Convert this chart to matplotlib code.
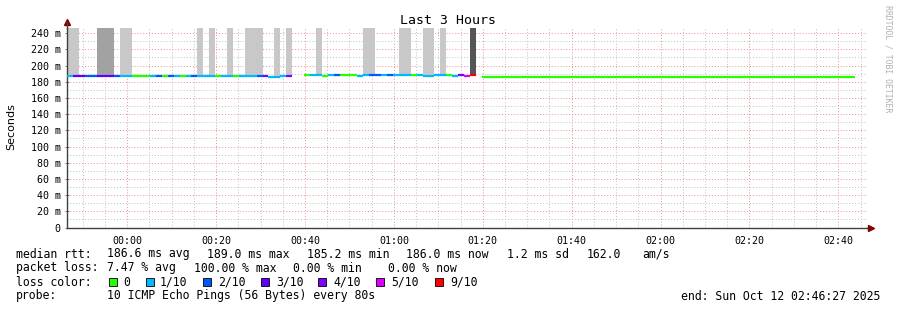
import matplotlib
matplotlib.use("Agg")
import matplotlib.pyplot as plt
from matplotlib.patches import Rectangle
from matplotlib.ticker import MultipleLocator, FixedLocator

# ----------------------------------
# Data (one sample every 80 s, from 23:46:27)
step_min = 80 / 60.0
t0 = -13.55  # minutes relative to 00:00

# median rtt line segments: start sample, number of samples, lost pings, median (ms)
seg_start = [0, 1, 3, 5, 8, 9, 11, 14, 15, 16, 17, 18, 19, 20, 21, 22, 25, 26, 28, 29,
             32, 33, 34, 36, 37,
             40, 41, 43, 44, 45, 46, 49, 50, 51, 53, 54, 55, 58, 59, 60, 62, 64, 65, 66,
             67, 68,
             70]
seg_len = [1, 2, 2, 3, 1, 2, 3, 1, 1, 1, 1, 1, 1, 1, 1, 3, 1, 2, 1, 3,
           1, 1, 2, 1, 1,
           1, 2, 1, 1, 1, 3, 1, 1, 2, 1, 1, 3, 1, 1, 2, 2, 1, 1, 1,
           1, 1,
           63]
seg_loss = [1, 3, 2, 3, 2, 1, 0, 1, 2, 0, 2, 1, 0, 1, 2, 1, 0, 1, 0, 1,
            2, 4, 1, 1, 4,
            0, 1, 0, 1, 2, 0, 1, 1, 2, 1, 2, 1, 0, 1, 1, 1, 0, 1, 4,
            5, 9,
            0]
seg_median = [187.0, 187.0, 187.0, 187.0, 187.0, 187.0, 187.0, 187.0, 187.0, 187.0,
              187.0, 187.0, 187.0, 187.0, 187.0, 187.0, 187.0, 187.0, 187.0, 187.0,
              187.0, 187.0, 185.2, 187.0, 187.0,
              188.0, 188.3, 187.0, 188.3, 188.3, 188.3, 187.0, 188.3, 188.3, 188.3,
              188.3, 188.3, 188.3, 188.3, 187.0, 188.3, 188.3, 187.0, 188.3,
              187.0, 188.3,
              185.8]

# smoke (spread of the pings), going off the top of the scale
smoke_start = [0, 5, 9, 22, 24, 27, 30, 35, 37, 42, 50, 56, 60, 63, 68]
smoke_len = [2, 3, 2, 1, 1, 1, 3, 1, 1, 1, 2, 2, 2, 1, 1]
smoke_shade = ["#c8c8c8", "#a2a2a2", "#c8c8c8", "#c8c8c8", "#c8c8c8", "#c8c8c8",
               "#c8c8c8", "#c8c8c8", "#c8c8c8", "#c8c8c8", "#c8c8c8", "#c8c8c8",
               "#c8c8c8", "#c8c8c8", "#555555"]
smoke_top = 246.3

loss_levels = [0, 1, 2, 3, 4, 5, 9]
loss_labels = ["0", "1/10", "2/10", "3/10", "4/10", "5/10", "9/10"]
loss_colors = ["#26ff00", "#00b8ff", "#0059ff", "#5e00ff", "#7e00ff", "#dd00ff", "#ff0000"]

x_tick_min = [0, 20, 40, 60, 80, 100, 120, 140, 160]
x_tick_labels = ["00:00", "00:20", "00:40", "01:00", "01:20", "01:40", "02:00", "02:20", "02:40"]
y_ticks = list(range(0, 241, 20))
y_tick_labels = ["0"] + ["%d m" % v for v in y_ticks[1:]]

W, H = 897, 310
MONO = "DejaVu Sans Mono"


def px(x, y):
    return x / W, 1 - y / H


def main():
    fig = plt.figure(figsize=(W / 100, H / 100), dpi=100)
    ax = fig.add_axes([67 / W, 1 - 227.5 / H, 800 / W, 199.5 / H])
    ax.set_xlim(t0, t0 + 180)
    ax.set_ylim(0, smoke_top)

    # smoke bars
    for s, n, c in zip(smoke_start, smoke_len, smoke_shade):
        i = seg_start.index(max(v for v in seg_start if v <= s))
        base = seg_median[i]
        ax.bar(t0 + s * step_min, smoke_top - base, width=n * step_min, bottom=base,
               align="edge", color=c, linewidth=0, zorder=2)

    # median line coloured by loss
    color_of = dict(zip(loss_levels, loss_colors))
    for s, n, loss, med in zip(seg_start, seg_len, seg_loss, seg_median):
        ax.hlines(med, t0 + s * step_min, t0 + (s + n) * step_min,
                  color=color_of[loss], linewidth=1.6, capstyle="butt", zorder=3)

    # grid
    ax.xaxis.set_major_locator(FixedLocator(x_tick_min))
    ax.xaxis.set_minor_locator(MultipleLocator(5))
    ax.set_xticklabels(x_tick_labels)
    ax.yaxis.set_major_locator(FixedLocator(y_ticks))
    ax.yaxis.set_minor_locator(MultipleLocator(10))
    ax.set_yticklabels(y_tick_labels)
    ax.grid(which="minor", color="#c0c0c0", linestyle=(0, (1, 2)), linewidth=0.7, zorder=1)
    ax.grid(which="major", color="#ec9090", linestyle=(0, (1, 2)), linewidth=0.7, zorder=1)
    ax.set_axisbelow(True)

    for sp in ["top", "right"]:
        ax.spines[sp].set_visible(False)
    for sp in ["left", "bottom"]:
        ax.spines[sp].set_color("#404040")
        ax.spines[sp].set_linewidth(1.0)
    ax.tick_params(which="both", direction="inout", length=3, width=0.6, color="#606060",
                   labelsize=7.2, pad=3)
    ax.tick_params(axis="x", which="both", length=0, pad=6)
    ax.tick_params(axis="y", which="minor", length=0)
    for lab in ax.get_xticklabels() + ax.get_yticklabels():
        lab.set_family(MONO)

    # axis arrows
    ax.plot([0], [1.03], marker="^", color="#800000", markersize=4,
            transform=ax.transAxes, clip_on=False)
    ax.plot([0, 0], [1.0, 1.03], color="#404040", linewidth=1.0,
            transform=ax.transAxes, clip_on=False)
    ax.plot([1.0, 1.004], [0, 0], color="#404040", linewidth=1.0,
            transform=ax.transAxes, clip_on=False)
    ax.plot([1.005], [0], marker=">", color="#800000", markersize=4,
            transform=ax.transAxes, clip_on=False)

    fig.text(*px(448, 20), "Last 3 Hours", family=MONO, fontsize=9.5,
             ha="center", va="center")
    fig.text(*px(11, 127), "Seconds", family="DejaVu Sans", fontsize=8,
             rotation=90, ha="center", va="center")
    fig.text(*px(888, 59), "RRDTOOL / TOBI OETIKER", family=MONO, fontsize=5.9,
             color="#b0b0b0", rotation=270, ha="center", va="center")

    # legend / statistics
    fs = 8.3
    def put(x, y, s, **kw):
        fig.text(*px(x, y), s, family=MONO, fontsize=fs, va="center", **kw)

    put(16, 254, "median rtt:")
    put(107, 254, "186.6 ms avg")
    put(207, 254, "189.0 ms max")
    put(307, 254, "185.2 ms min")
    put(406, 254, "186.0 ms now")
    put(507, 254, "1.2 ms sd")
    put(587, 254, "162.0")
    put(642, 254, "am/s")

    put(16, 268, "packet loss:")
    put(107, 268, "7.47 % avg")
    put(194, 268, "100.00 % max")
    put(293, 268, "0.00 % min")
    put(388, 268, "0.00 % now")

    put(16, 282, "loss color:")
    box_x = [109, 146, 203, 261, 318, 376, 435]
    lab_x = [123, 160, 218, 276, 333, 391, 450]
    for bx, lx, c, lab in zip(box_x, lab_x, loss_colors, loss_labels):
        x0, y0 = px(bx, 286)
        fig.add_artist(Rectangle((x0, y0), 8 / W, 8 / H, transform=fig.transFigure,
                                 facecolor=c, edgecolor="black", linewidth=0.6))
        put(lx, 282, lab)

    put(16, 296, "probe:")
    put(107, 296, "10 ICMP Echo Pings (56 Bytes) every 80s")
    put(880, 296, "end: Sun Oct 12 02:46:27 2025", ha="right")

    fig.savefig("out.png", dpi=100, facecolor="white")


if __name__ == "__main__":
    main()
